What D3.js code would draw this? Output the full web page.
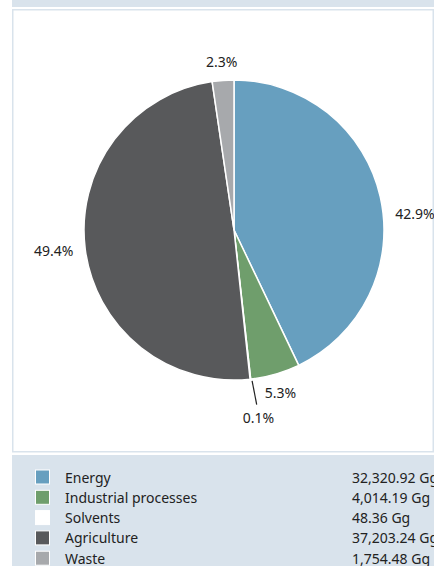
<!DOCTYPE html>
<html>
<head>
<meta charset="utf-8">
<script src="https://cdn.jsdelivr.net/npm/d3@7"></script>
<style>
  html, body { margin: 0; padding: 0; background: #fff; }
  svg { display: block; font-family: "Noto Sans", "Open Sans", sans-serif; }
</style>
</head>
<body>
<svg id="chart" width="434" height="566"></svg>
<script>
// Emissions by sector (Gg) and their shares
const categories = ["Energy", "Industrial processes", "Solvents", "Agriculture", "Waste"];
const values = [32320.92, 4014.19, 48.36, 37203.24, 1754.48];
const valueLabels = ["32,320.92 Gg", "4,014.19 Gg", "48.36 Gg", "37,203.24 Gg", "1,754.48 Gg"];
const percentLabels = ["42.9%", "5.3%", "0.1%", "49.4%", "2.3%"];
const colors = ["#679fbf", "#6f9e6c", "#ffffff", "#58595b", "#a7a9ac"];

const W = 434, H = 566;
const svg = d3.select("#chart");
const frame = "#d9e3ec";

// top strip
svg.append("rect").attr("x", 12).attr("y", 0).attr("width", W - 12).attr("height", 7).attr("fill", frame);
// chart panel
svg.append("rect").attr("x", 12.75).attr("y", 9.75).attr("width", W - 13.5).attr("height", 442)
  .attr("fill", "#fff").attr("stroke", frame).attr("stroke-width", 1.5);
// legend panel
svg.append("rect").attr("x", 12).attr("y", 455).attr("width", W - 12).attr("height", H - 455).attr("fill", frame);

// pie
const cx = 234, cy = 230, r = 150;
const data = categories.map((c, i) => ({ name: c, value: values[i], pct: percentLabels[i], color: colors[i] }));
const pie = d3.pie().value(d => d.value).sort(null);
const arcs = pie(data);
const arc = d3.arc().innerRadius(0).outerRadius(r);

const g = svg.append("g").attr("transform", `translate(${cx},${cy})`);
g.selectAll("path.slice").data(arcs).join("path")
  .attr("class", "slice")
  .attr("d", arc)
  .attr("fill", d => d.data.color)
  .attr("stroke", "#fff")
  .attr("stroke-width", 1.5)
  .attr("stroke-linejoin", "round");

// data labels placed around the rim; tiny slices get a connector and sit further out
const polar = (a, rad) => [Math.sin(a) * rad, -Math.cos(a) * rad];
const labelShift = { "Energy": 0.12 };
arcs.forEach(d => {
  const share = d.value / d3.sum(values);
  let a = (d.startAngle + d.endAngle) / 2 + (labelShift[d.data.name] || 0);
  const s = Math.sin(a);
  const anchor = s > 0.5 ? "start" : (s < -0.5 ? "end" : "middle");
  if (share < 0.01) {
    a -= 0.02;
    const [x1, y1] = polar(a + 0.01, r + 2);
    const [x2, y2] = polar(a, r + 26);
    g.append("line").attr("x1", x1).attr("y1", y1).attr("x2", x2).attr("y2", y2)
      .attr("stroke", "#222").attr("stroke-width", 1.2);
    const [lx, ly] = polar(a, r + 39);
    g.append("text").attr("x", lx).attr("y", ly).attr("text-anchor", "middle")
      .attr("dominant-baseline", "central").attr("font-size", 14).attr("fill", "#222").text(d.data.pct);
  } else {
    const rr = anchor === "middle" ? r + 19 : r + 12;
    const [lx, ly] = polar(a, rr);
    g.append("text").attr("x", lx).attr("y", ly).attr("text-anchor", anchor)
      .attr("dominant-baseline", "central").attr("font-size", 14).attr("fill", "#222").text(d.data.pct);
  }
});

// legend
const y0 = 477, step = 20.3;
const legend = svg.append("g");
const rows = legend.selectAll("g.row").data(data).join("g")
  .attr("class", "row")
  .attr("transform", (d, i) => `translate(0,${y0 + i * step})`);
rows.append("rect").attr("x", 35.5).attr("y", -7).attr("width", 14).attr("height", 14)
  .attr("fill", d => d.color).attr("stroke", "#fff").attr("stroke-width", 1);
rows.append("text").attr("x", 65).attr("y", 0).attr("dominant-baseline", "central")
  .attr("font-size", 14).attr("fill", "#222").text(d => d.name);
rows.append("text").attr("x", 352).attr("y", 0).attr("dominant-baseline", "central")
  .attr("font-size", 14).attr("fill", "#222").text((d, i) => valueLabels[i]);
</script>
</body>
</html>
